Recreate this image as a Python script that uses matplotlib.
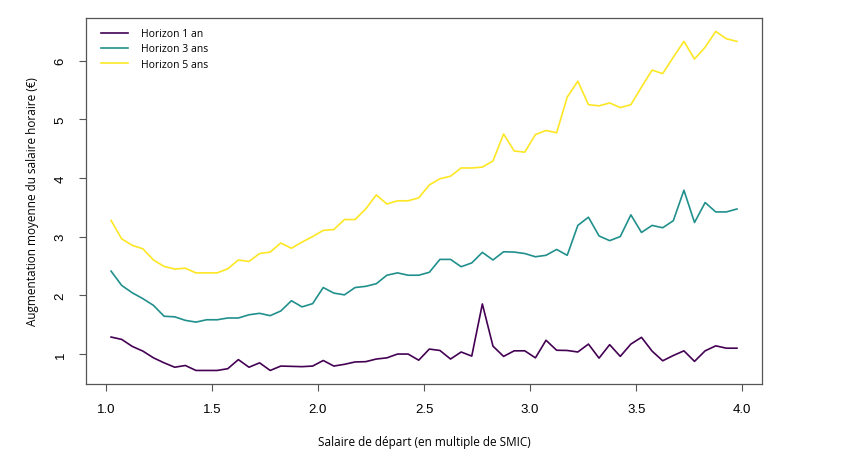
import matplotlib
matplotlib.use("Agg")
import matplotlib.pyplot as plt
import numpy as np

# starting wage, in multiples of the SMIC (bin centres)
salaire = [1.025 + 0.05 * i for i in range(60)]

horizon_1 = [1.285, 1.245, 1.125, 1.045, 0.93, 0.845, 0.77, 0.80, 0.715, 0.715,
             0.715, 0.745, 0.90, 0.77, 0.845, 0.715, 0.79, 0.785, 0.78, 0.79,
             0.885, 0.79, 0.82, 0.86, 0.865, 0.91, 0.93, 0.995, 0.995, 0.89,
             1.08, 1.056, 0.91, 1.03, 0.96, 1.85, 1.13, 0.955, 1.05, 1.05,
             0.93, 1.23, 1.06, 1.056, 1.03, 1.165, 0.925, 1.155, 0.955, 1.165,
             1.28, 1.045, 0.88, 0.97, 1.05, 0.87, 1.05, 1.135, 1.095, 1.095]

horizon_3 = [2.41, 2.166, 2.04, 1.94, 1.825, 1.64, 1.63, 1.57, 1.54, 1.58,
             1.58, 1.61, 1.61, 1.665, 1.69, 1.65, 1.73, 1.905, 1.80, 1.855,
             2.13, 2.035, 2.005, 2.13, 2.15, 2.195, 2.34, 2.38, 2.34, 2.34,
             2.39, 2.61, 2.61, 2.485, 2.55, 2.73, 2.60, 2.74, 2.735, 2.71,
             2.655, 2.68, 2.78, 2.68, 3.19, 3.33, 3.01, 2.93, 3.00, 3.37,
             3.07, 3.19, 3.15, 3.27, 3.79, 3.24, 3.58, 3.42, 3.42, 3.47]

horizon_5 = [3.275, 2.96, 2.85, 2.79, 2.60, 2.49, 2.445, 2.46, 2.38, 2.38,
             2.38, 2.45, 2.60, 2.575, 2.71, 2.735, 2.89, 2.80, 2.905, 3.00,
             3.105, 3.12, 3.29, 3.29, 3.47, 3.71, 3.555, 3.61, 3.61, 3.66,
             3.88, 3.986, 4.03, 4.17, 4.17, 4.185, 4.29, 4.75, 4.46, 4.44,
             4.74, 4.81, 4.77, 5.38, 5.65, 5.25, 5.23, 5.28, 5.20, 5.25,
             5.55, 5.84, 5.78, 6.06, 6.33, 6.03, 6.23, 6.50, 6.375, 6.33]

labels = ["Horizon 1 an", "Horizon 3 ans", "Horizon 5 ans"]
colors = ["#440154", "#21908C", "#FDE725"]
x_ticks = [1.0, 1.5, 2.0, 2.5, 3.0, 3.5, 4.0]
y_ticks = [1, 2, 3, 4, 5, 6]


def r_range(values):
    """Axis range extended by 4% on each side, like R's base graphics."""
    lo, hi = min(values), max(values)
    pad = (hi - lo) * 0.04
    return lo - pad, hi + pad


def plot_salaires():
    fig = plt.figure(figsize=(8.46, 4.60), dpi=100)
    ax = fig.add_axes([0.1017, 0.163, 0.799, 0.796])

    for serie, label, color in zip([horizon_1, horizon_3, horizon_5],
                                   labels, colors):
        ax.plot(salaire, serie, color=color, lw=1.2, label=label)

    ax.set_xlim(*r_range(salaire))
    ax.set_ylim(*r_range(horizon_1 + horizon_3 + horizon_5))

    ax.set_xticks(x_ticks)
    ax.set_xticklabels([f"{t:.1f}" for t in x_ticks],
                       family="Liberation Sans", fontsize=9.5)
    ax.set_yticks(y_ticks)
    ax.set_yticklabels([str(t) for t in y_ticks], family="Liberation Sans",
                       fontsize=9.5, rotation=90, va="center")
    ax.tick_params(direction="out", length=5, width=0.8, color="#555555",
                   pad=9)

    for side in ax.spines.values():
        side.set_color("#555555")
        side.set_linewidth(0.9)

    ax.set_xlabel("Salaire de départ (en multiple de SMIC)",
                  family="Open Sans", fontsize=8.5, labelpad=14)
    ax.set_ylabel("Augmentation moyenne du salaire horaire (€)",
                  family="Open Sans", fontsize=8.5, labelpad=11)

    ax.legend(loc="upper left", bbox_to_anchor=(0.0104, 0.9945),
              frameon=False, prop={"family": "Open Sans", "size": 7.5},
              handlelength=2.6, handletextpad=1.2, labelspacing=0.4,
              borderaxespad=0.4)

    fig.savefig("out.png", dpi=100)


if __name__ == '__main__':
    plot_salaires()
